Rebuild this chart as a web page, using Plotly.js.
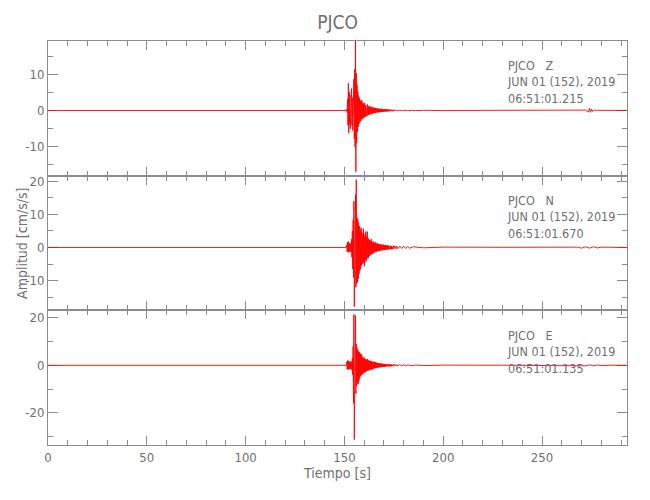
<!DOCTYPE html>
<html>
<head>
<meta charset="utf-8">
<script src="https://cdn.plot.ly/plotly-3.0.1.min.js"></script>
<style>html,body{margin:0;padding:0;background:#fff;}</style>
</head>
<body>
<div id="chart" style="width:650px;height:500px;"></div>
<script>
// ---- Data ----
const stationName = "PJCO";
const components = ["Z", "N", "E"];
const startTimes = ["06:51:01.215", "06:51:01.670", "06:51:01.135"];
const dateLabel = "JUN 01 (152), 2019";

// y tick values / labels per panel
const zTickVals = [-10, 0, 10];
const zTickText = ["-10", "0", "10"];
const nTickVals = [-10, 0, 10, 20];
const nTickText = ["-10", "0", "10", "20"];
const eTickVals = [-20, 0, 20];
const eTickText = ["-20", "0", "20"];

// quiet pre-event record
const preT = [0, 50, 100, 150, 151.0];
const preZ = [0, 0, 0, 0, 0];
const preN = [0, 0, 0, 0, 0];
const preE = [0, 0, 0, 0, 0];

// event window sampled every eventDt seconds from eventT0
const eventT0 = 151.0;
const eventDt = 0.2;
const eventZ = [
  0, 0.4, -0.6, 3.2, -4.1, 7.6, -6.3, 5.2, -3.8, 4.4,
  -5.1, 3.3, -2.7, 6.1, -4.2, 3.6, -5.6, 4.8, -3.1, 8.8,
  -7.9, 11.5, -10.2, 19.5, -17.1, 10.4, -9.1, 7.2, -6.0, 5.3,
  -4.6, 4.1, -3.8, 3.5, -3.2, 2.8, -3.0, 2.6, -2.4, 2.9,
  -2.5, 2.1, -2.2, 1.9, -2.0, 2.2, -1.7, 1.6, -1.8, 1.5,
  -1.6, 1.4, -1.3, 1.7, -1.5, 1.2, -1.1, 1.3, -1.2, 1.0,
  -1.1, 0.9, -1.0, 1.1, -0.8, 0.9, -0.9, 0.7, -0.8, 0.8,
  -0.7, 0.8, -0.6, 0.7, -0.7, 0.6, -0.5, 0.6, -0.6, 0.5,
  -0.5, 0.6, -0.5, 0.4, -0.5, 0.5, -0.4, 0.4, -0.4, 0.5,
  -0.4, 0.3, -0.4, 0.4, -0.3, 0.3, -0.3, 0.4, -0.3, 0.3,
  -0.3, 0.3, -0.2, 0.3, -0.3, 0.2, -0.2, 0.3, -0.2, 0.2,
  -0.2, 0.2, -0.2, 0.2, -0.1, 0.2, -0.2, 0.1, -0.2, 0.2,
  -0.1
];
const eventN = [
  0, 0.8, -1.2, 1.6, -1.4, 1.8, -1.5, 1.2, -1.0, 1.4,
  -1.3, 1.0, -1.5, 2.5, -3.0, 5.0, -6.5, 8.2, -9.0, 14.0,
  -17.9, 12.5, -14.0, 16.0, -12.0, 20.5, -11.0, 9.0, -10.5, 8.5,
  -9.5, 7.5, -8.0, 6.5, -7.0, 5.5, -6.5, 6.0, -5.5, 4.5,
  -5.0, 4.0, -4.5, 5.7, -4.8, 3.5, -5.7, 4.0, -3.8, 4.8,
  -4.2, 3.2, -3.5, 4.8, -3.0, 2.8, -3.2, 2.5, -2.6, 2.2,
  -2.4, 2.0, -2.2, 2.5, -1.8, 1.7, -2.0, 1.5, -1.6, 1.8,
  -1.5, 1.3, -1.4, 1.6, -1.2, 1.1, -1.3, 1.2, -1.0, 1.3,
  -1.1, 1.0, -1.2, 0.9, -1.0, 1.1, -0.8, 0.9, -0.9, 0.8,
  -0.9, 0.8, -0.7, 0.9, -0.8, 0.7, -0.8, 0.6, -0.7, 0.8,
  -0.6, 0.7, -0.6, 0.5, -0.7, 0.6, -0.5, 0.6, -0.5, 0.5,
  -0.6, 0.5, -0.4, 0.5, -0.5, 0.4, -0.5, 0.4, -0.4, 0.5,
  -0.4
];
const eventE = [
  0, 1.5, -1.8, 2.0, -1.6, 1.9, -1.7, 1.4, -1.5, 1.8,
  -1.4, 1.2, -1.6, 1.5, -2.0, 3.0, -4.0, 8.0, -16.0, 21.5,
  -31.3, 14.0, -20.0, 21.0, -12.0, 9.0, -8.8, 7.3, -7.5, 6.5,
  -8.0, 6.0, -6.5, 5.5, -5.3, 5.0, -4.5, 4.8, -4.0, 4.2,
  -3.8, 3.5, -3.6, 3.0, -3.2, 3.3, -2.8, 2.6, -3.0, 2.5,
  -2.6, 2.4, -2.2, 2.7, -2.3, 2.0, -2.1, 2.2, -1.9, 1.8,
  -2.0, 1.7, -1.8, 1.9, -1.6, 1.5, -1.7, 1.4, -1.5, 1.6,
  -1.3, 1.4, -1.2, 1.3, -1.1, 1.2, -1.0, 1.1, -1.1, 0.9,
  -1.0, 0.9, -0.8, 1.0, -0.8, 0.7, -0.9, 0.8, -0.7, 0.7,
  -0.7, 0.8, -0.6, 0.6, -0.7, 0.5, -0.6, 0.6, -0.5, 0.6,
  -0.5, 0.5, -0.6, 0.4, -0.5, 0.5, -0.4, 0.5, -0.4, 0.4,
  -0.5, 0.4, -0.3, 0.4, -0.4, 0.3, -0.4, 0.3, -0.3, 0.4,
  -0.3
];

// coda / tail of the record
const tailZT = [176, 177, 178, 179, 180, 182, 184, 186, 190, 200, 220, 240, 260, 272, 273.5, 274, 274.5, 275, 275.5, 276, 278, 285, 293];
const tailZ  = [0.15, -0.12, 0.1, -0.1, 0.08, -0.08, 0.06, -0.05, 0.05, -0.03, 0.03, -0.02, 0.02, 0.1, -0.4, 0.6, -0.5, 0.4, -0.3, 0.1, 0.05, 0.03, 0];
const tailNT = [175.5, 176, 176.5, 177, 178, 179, 180, 181, 182, 183, 185, 190, 200, 230, 260, 268, 270, 272, 274, 276, 278, 280, 285, 293];
const tailN  = [0.5, -0.4, 0.4, -0.4, 0.4, -0.3, 0.4, -0.3, 0.3, -0.2, 0.2, -0.1, 0.1, 0.05, 0.05, 0.1, -0.2, 0.2, -0.2, 0.2, -0.15, 0.1, 0.05, 0];
const tailET = [175.5, 176, 176.5, 177, 178, 179, 180, 181, 182, 184, 186, 190, 200, 230, 260, 270, 272, 274, 276, 278, 280, 285, 293];
const tailE  = [0.4, -0.3, 0.3, -0.3, 0.3, -0.25, 0.25, -0.2, 0.2, -0.15, 0.12, -0.1, 0.08, 0.05, 0.05, 0.1, -0.2, 0.2, -0.2, 0.15, -0.1, 0.05, 0];

// ---- Build traces ----
function eventTimes(n) { const t = []; for (let i = 0; i < n; i++) t.push(+(eventT0 + i * eventDt).toFixed(3)); return t; }
function series(pre, ev, tt, tv) {
  return { x: preT.slice(0, -1).concat(eventTimes(ev.length), tt), y: pre.slice(0, -1).concat(ev, tv) };
}
const sZ = series(preZ, eventZ, tailZT, tailZ);
const sN = series(preN, eventN, tailNT, tailN);
const sE = series(preE, eventE, tailET, tailE);

const lineStyle = { color: '#ff0000', width: 0.9 };
const traces = [
  { type: 'scatter', mode: 'lines', x: sZ.x, y: sZ.y, xaxis: 'x3', yaxis: 'y3', line: lineStyle, hoverinfo: 'skip', cliponaxis: true },
  { type: 'scatter', mode: 'lines', x: sN.x, y: sN.y, xaxis: 'x2', yaxis: 'y2', line: lineStyle, hoverinfo: 'skip', cliponaxis: true },
  { type: 'scatter', mode: 'lines', x: sE.x, y: sE.y, xaxis: 'x',  yaxis: 'y',  line: lineStyle, hoverinfo: 'skip', cliponaxis: true }
];

const FONT = '"Liberation Sans Narrow", "DejaVu Sans Condensed", "Liberation Sans", sans-serif';
const TXT = '#6f6f6f';
const AX = '#8c8c8c';

function xAxis(anchor, showLabels) {
  return {
    anchor: anchor, domain: [0, 1], range: [0, 293], dtick: 50, tick0: 0,
    ticks: 'inside', ticklen: 9, tickcolor: AX, tickwidth: 1,
    minor: { dtick: 10, ticks: 'inside', ticklen: 5, tickcolor: AX, tickwidth: 1 },
    showline: true, linecolor: AX, linewidth: 1, mirror: 'allticks',
    showgrid: false, zeroline: false, showticklabels: showLabels, layer: 'below traces',
    tickfont: { family: FONT, size: 13, color: TXT }
  };
}
function yAxis(anchor, domain, range, vals, text, minorDtick) {
  return {
    anchor: anchor, domain: domain, range: range,
    tickmode: 'array', tickvals: vals, ticktext: text,
    ticks: 'inside', ticklen: 10, tickcolor: AX, tickwidth: 1,
    minor: { dtick: minorDtick, tick0: 0, ticks: 'inside', ticklen: 5, tickcolor: AX, tickwidth: 1 },
    showline: true, linecolor: AX, linewidth: 1, mirror: 'allticks',
    showgrid: false, zeroline: false, layer: 'below traces',
    tickfont: { family: FONT, size: 13, color: TXT }
  };
}

const xa = xAxis('y', true);
xa.title = { text: 'Tiempo [s]', font: { family: FONT, size: 14, color: TXT }, standoff: 3 };

function infoText(i) {
  return stationName + '\u00a0\u00a0\u00a0' + components[i] + '<br>' + dateLabel + '<br>' + startTimes[i];
}
const annY = 0.885;
const annX = 0.789;
const annFont = { family: FONT, size: 12.5, color: TXT };
const annotations = [
  { xref: 'paper', yref: 'y3 domain', x: annX, y: annY, xanchor: 'left', yanchor: 'top', align: 'left', showarrow: false, text: infoText(0), font: annFont },
  { xref: 'paper', yref: 'y2 domain', x: annX, y: annY, xanchor: 'left', yanchor: 'top', align: 'left', showarrow: false, text: infoText(1), font: annFont },
  { xref: 'paper', yref: 'y domain',  x: annX, y: annY, xanchor: 'left', yanchor: 'top', align: 'left', showarrow: false, text: infoText(2), font: annFont },
  { xref: 'paper', yref: 'paper', x: -0.045, y: 0.5, xanchor: 'center', yanchor: 'middle', textangle: -90, showarrow: false, text: 'Amplitud [cm/s/s]', font: { family: FONT, size: 14, color: TXT } }
];

const layout = {
  width: 650, height: 500,
  margin: { l: 48, r: 23, t: 41, b: 55 },
  paper_bgcolor: '#ffffff', plot_bgcolor: '#ffffff',
  showlegend: false, hovermode: false,
  title: { text: stationName, x: 0.5, xref: 'paper', y: 0.956, yref: 'container', xanchor: 'center', yanchor: 'middle', font: { family: FONT, size: 19, color: TXT } },
  xaxis: xa,
  xaxis2: xAxis('y2', false),
  xaxis3: xAxis('y3', false),
  yaxis: yAxis('x', [0, 1/3], [-33.6, 23.2], eTickVals, eTickText, 10),
  yaxis2: yAxis('x2', [1/3, 2/3], [-19.0, 21.7], nTickVals, nTickText, 5),
  yaxis3: yAxis('x3', [2/3, 1], [-18.2, 19.4], zTickVals, zTickText, 5),
  annotations: annotations
};
layout.xaxis2.matches = 'x';
layout.xaxis3.matches = 'x';

Plotly.newPlot('chart', traces, layout, { staticPlot: true, displayModeBar: false });
</script>
</body>
</html>
